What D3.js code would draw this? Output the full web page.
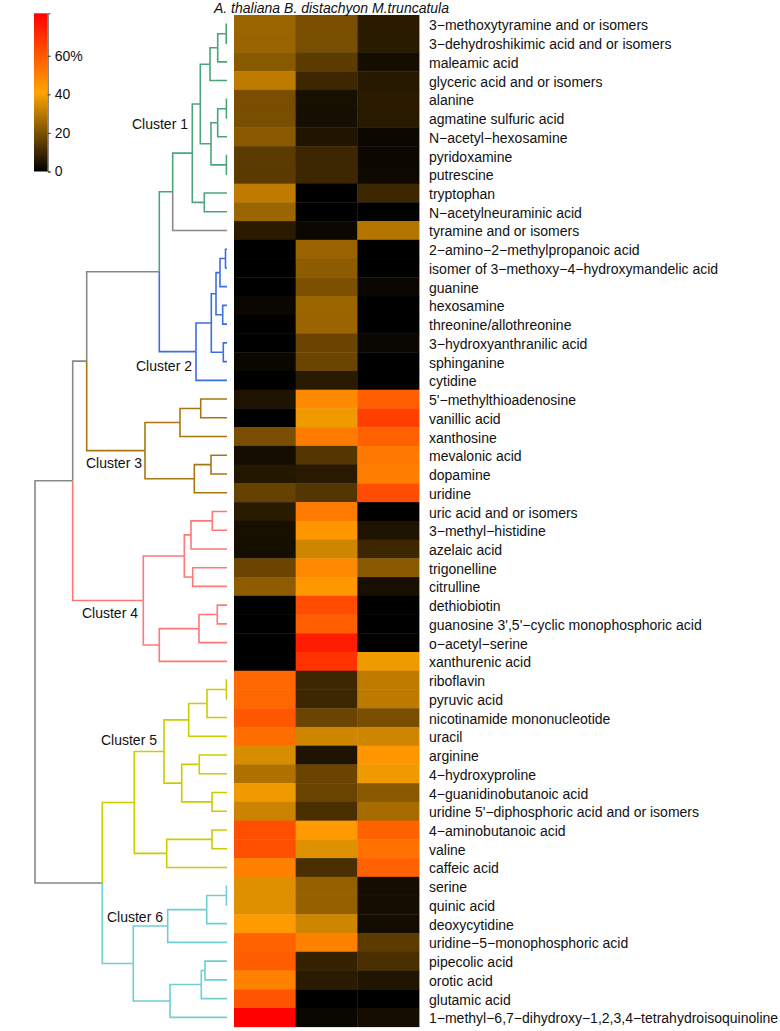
<!DOCTYPE html>
<html>
<head>
<meta charset="utf-8">
<script src="https://cdn.jsdelivr.net/npm/d3@7"></script>
<style>
  body { margin: 0; background: #fff; }
  text { font-family: "Liberation Sans", Arial, sans-serif; fill: #111; }
</style>
</head>
<body>
<div class="container"></div>
<script>
// species (columns) and metabolites (rows, in dendrogram order)
var species = ["A. thaliana", "B. distachyon", "M.truncatula"];

var metabolites = [
    "3\u2212methoxytyramine and or isomers",
    "3\u2212dehydroshikimic acid and or isomers",
    "maleamic acid",
    "glyceric acid and or isomers",
    "alanine",
    "agmatine sulfuric acid",
    "N\u2212acetyl\u2212hexosamine",
    "pyridoxamine",
    "putrescine",
    "tryptophan",
    "N\u2212acetylneuraminic acid",
    "tyramine and or isomers",
    "2\u2212amino\u22122\u2212methylpropanoic acid",
    "isomer of 3\u2212methoxy\u22124\u2212hydroxymandelic acid",
    "guanine",
    "hexosamine",
    "threonine/allothreonine",
    "3\u2212hydroxyanthranilic acid",
    "sphinganine",
    "cytidine",
    "5'\u2212methylthioadenosine",
    "vanillic acid",
    "xanthosine",
    "mevalonic acid",
    "dopamine",
    "uridine",
    "uric acid and or isomers",
    "3\u2212methyl\u2212histidine",
    "azelaic acid",
    "trigonelline",
    "citrulline",
    "dethiobiotin",
    "guanosine 3',5'\u2212cyclic monophosphoric acid",
    "o\u2212acetyl\u2212serine",
    "xanthurenic acid",
    "riboflavin",
    "pyruvic acid",
    "nicotinamide mononucleotide",
    "uracil",
    "arginine",
    "4\u2212hydroxyproline",
    "4\u2212guanidinobutanoic acid",
    "uridine 5'\u2212diphosphoric acid and or isomers",
    "4\u2212aminobutanoic acid",
    "valine",
    "caffeic acid",
    "serine",
    "quinic acid",
    "deoxycytidine",
    "uridine\u22125\u2212monophosphoric acid",
    "pipecolic acid",
    "orotic acid",
    "glutamic acid",
    "1\u2212methyl\u22126,7\u2212dihydroxy\u22121,2,3,4\u2212tetrahydroisoquinoline"
];

// percentages per species, same order as metabolites
var athaliana = [25, 24.6, 22, 30.5, 19.5, 19.3, 22, 14.7, 14.5, 30.5, 25, 6.7,
    0, 0, 0, 1.6, 0, 0, 1.6, 0,
    4.8, 0, 19.5, 3.2, 5.7, 16.3,
    6.7, 3.7, 3.6, 17, 22.9, 0, 0, 0, 0,
    56.3, 56.1, 60.5, 54.3, 34.7, 28.1, 38.4, 32.6, 62.5, 62.3, 49.9,
    35.8, 35.7, 43.5, 57.3, 59, 49.9, 61, 81.5];

var bdistachyon = [19.5, 19.3, 14.7, 9.8, 3.7, 3.6, 5.1, 9.8, 9.7, 0, 0, 2,
    24.7, 22.9, 20, 25, 24.9, 17, 17.1, 6.4,
    47.9, 38.4, 51.4, 13.3, 6.4, 13.3,
    51.4, 44.7, 33.2, 47.9, 44.5, 63.2, 58.3, 75.1, 69.6,
    9.8, 9.7, 17, 33.2, 4.8, 17, 16.9, 11.8, 43.5, 35.8, 11.8,
    24, 23.9, 33.2, 49.9, 8.2, 6.7, 0, 1.6];

var mtruncatula = [6.7, 6.6, 3.2, 6.3, 6.7, 6.5, 2, 2, 2.1, 9.8, 0, 29,
    0, 0, 1.6, 0, 0, 1.6, 0, 0,
    58.3, 66.4, 57.8, 52.1, 50.6, 63.2,
    0, 4.8, 9.8, 22, 3.7, 0, 0, 0, 38.4,
    30.5, 30.4, 19.5, 33.2, 44.7, 38.4, 22, 26.8, 57.8, 53.8, 57.8,
    3.2, 3.2, 3.1, 14.7, 11.8, 5.1, 0, 3.2];

// hclust style merges: [left, right, height, cluster]; negative = leaf (row), positive = earlier merge
var merges = [
    [-1, -2, 0.008, 1], [1, -3, 0.093, 1], [2, -4, 0.17, 1], [-5, -6, 0.006, 1],
    [4, -7, 0.093, 1], [-8, -9, 0.006, 1], [5, 6, 0.16, 1], [3, 7, 0.267, 1],
    [-10, -11, 0.227, 1], [8, 9, 0.347, 1], [10, -12, 0.543, 1],
    [-13, -14, 0.015, 2], [12, -15, 0.07, 2], [-16, -17, 0.043, 2], [13, 14, 0.11, 2],
    [-18, -19, 0.037, 2], [15, 16, 0.157, 2], [17, -20, 0.31, 2],
    [11, 18, 0.677, 0],
    [-21, -22, 0.263, 3], [20, -23, 0.47, 3], [-24, -25, 0.16, 3], [22, -26, 0.327, 3],
    [21, 23, 0.82, 3],
    [19, 24, 1.403, 0],
    [-27, -28, 0.147, 4], [26, -29, 0.36, 4], [-30, -31, 0.343, 4], [27, 28, 0.427, 4],
    [-32, -33, 0.097, 4], [30, -34, 0.28, 4], [31, -35, 0.677, 4], [29, 32, 0.837, 4],
    [25, 33, 1.543, 0],
    [-36, -37, 0.006, 5], [35, -38, 0.2, 5], [36, -39, 0.383, 5], [-40, -41, 0.277, 5],
    [-42, -43, 0.15, 5], [38, 39, 0.453, 5], [37, 40, 0.63, 5], [-44, -45, 0.15, 5],
    [42, -46, 0.603, 5], [41, 43, 0.927, 5],
    [-47, -48, 0.006, 6], [45, -49, 0.203, 6], [46, -50, 0.593, 6], [-51, -52, 0.22, 6],
    [48, -53, 0.257, 6], [49, -54, 0.57, 6], [47, 50, 0.937, 6],
    [44, 51, 1.247, 0],
    [34, 52, 1.92, 0]
];

// cluster of each leaf (0 = not in a cluster)
var leafCluster = [1, 1, 1, 1, 1, 1, 1, 1, 1, 1, 1, 0,
    2, 2, 2, 2, 2, 2, 2, 2,
    3, 3, 3, 3, 3, 3,
    4, 4, 4, 4, 4, 4, 4, 4, 4,
    5, 5, 5, 5, 5, 5, 5, 5, 5, 5, 5,
    6, 6, 6, 6, 6, 6, 6, 6];

var clusterNames = ["Cluster 1", "Cluster 2", "Cluster 3", "Cluster 4", "Cluster 5", "Cluster 6"];

var legendTicks = [0, 20, 40, 60];
var legendTickLabels = ["0", "20", "40", "60%"];

// ---- layout ----
var width = 780, height = 1031;
var heatLeft = 234, heatRight = 419, heatTop = 15, heatBottom = 1026.7;
var colorMax = 82;
var clusterColors = ["#888888", "#4ba57b", "#3c6fde", "#a8760f", "#ff7777", "#cccc00", "#6fcfd0"];
var clusterLabelPos = [[188, 124], [192, 366], [142, 463], [138, 613], [157, 740], [163, 917]];

var svg = d3.select('.container')
    .append('svg')
    .attr('width', width)
    .attr('height', height);

var x = d3.scaleBand().domain(species).range([heatLeft, heatRight]);
var y = d3.scaleBand().domain(metabolites).range([heatTop, heatBottom]);
var color = d3.scaleLinear()
    .domain([0, colorMax / 2, colorMax])
    .range(["#000000", "#ffa500", "#ff0000"]);

// heatmap cells
var values = [athaliana, bdistachyon, mtruncatula];
var cells = [];
species.forEach(function(s, j) {
    metabolites.forEach(function(m, i) {
        cells.push({ species: s, metabolite: m, value: values[j][i] });
    });
});

svg.append('g')
    .selectAll('rect')
    .data(cells)
    .enter()
    .append('rect')
    .attr('x', function(d) { return x(d.species); })
    .attr('y', function(d) { return y(d.metabolite); })
    .attr('width', x.bandwidth() + 0.4)
    .attr('height', y.bandwidth() + 0.4)
    .attr('fill', function(d) { return color(d.value); });

// column header
svg.append('text')
    .attr('x', 214)
    .attr('y', 12.5)
    .style('font-size', '14px')
    .style('font-style', 'italic')
    .text(species.join(' '));

// row labels
svg.append('g')
    .selectAll('text')
    .data(metabolites)
    .enter()
    .append('text')
    .attr('x', 429)
    .attr('y', function(d) { return y(d) + y.bandwidth() / 2 + 1; })
    .attr('dy', '0.36em')
    .style('font-size', '14px')
    .text(function(d) { return d; });

// dendrogram
function buildNode(ref) {
    if (ref < 0) {
        var r = -ref - 1;
        return { name: metabolites[r], height: 0, cluster: leafCluster[r] };
    }
    var m = merges[ref - 1];
    return { height: m[2], cluster: m[3], children: [buildNode(m[0]), buildNode(m[1])] };
}

var root = d3.hierarchy(buildNode(merges.length));
var xh = d3.scaleLinear().domain([0, root.data.height]).range([227, 35]);

root.eachAfter(function(n) {
    n.px = xh(n.data.height);
    n.py = n.children ? d3.mean(n.children, function(c) { return c.py; })
                      : y(n.data.name) + y.bandwidth() / 2;
});

svg.append('g')
    .attr('fill', 'none')
    .attr('stroke-width', 1.6)
    .selectAll('path')
    .data(root.descendants().filter(function(n) { return n.parent; }))
    .enter()
    .append('path')
    .attr('stroke', function(n) { return clusterColors[n.data.cluster]; })
    .attr('d', function(n) {
        return 'M' + n.parent.px + ',' + n.parent.py + 'V' + n.py + 'H' + n.px;
    });

// cluster labels
svg.append('g')
    .selectAll('text')
    .data(clusterNames)
    .enter()
    .append('text')
    .attr('x', function(d, i) { return clusterLabelPos[i][0]; })
    .attr('y', function(d, i) { return clusterLabelPos[i][1]; })
    .attr('dy', '0.36em')
    .attr('text-anchor', 'end')
    .style('font-size', '14px')
    .text(function(d) { return d; });

// colour key
var barX = 34, barW = 13.7;
var ly = d3.scaleLinear().domain([0, colorMax]).range([171.5, 13.3]);

var grad = svg.append('defs').append('linearGradient')
    .attr('id', 'key')
    .attr('x1', 0).attr('y1', 1).attr('x2', 0).attr('y2', 0);
grad.selectAll('stop')
    .data(color.domain())
    .enter()
    .append('stop')
    .attr('offset', function(d) { return d / colorMax; })
    .attr('stop-color', function(d) { return color(d); });

svg.append('rect')
    .attr('x', barX)
    .attr('y', ly(colorMax))
    .attr('width', barW)
    .attr('height', ly(0) - ly(colorMax))
    .attr('fill', 'url(#key)');

var axis = d3.axisRight(ly)
    .tickValues(legendTicks)
    .tickSize(3)
    .tickPadding(4)
    .tickFormat(function(d, i) { return legendTickLabels[i]; });

var axisG = svg.append('g')
    .attr('transform', 'translate(' + (barX + barW) + ',0)')
    .call(axis);
axisG.select('.domain').attr('stroke', '#555');
axisG.selectAll('.tick line').attr('stroke', '#333');
axisG.selectAll('.tick text')
    .style('font-size', '14px')
    .style('font-family', '"Liberation Sans", Arial, sans-serif')
    .attr('fill', '#111');
</script>
</body>
</html>
